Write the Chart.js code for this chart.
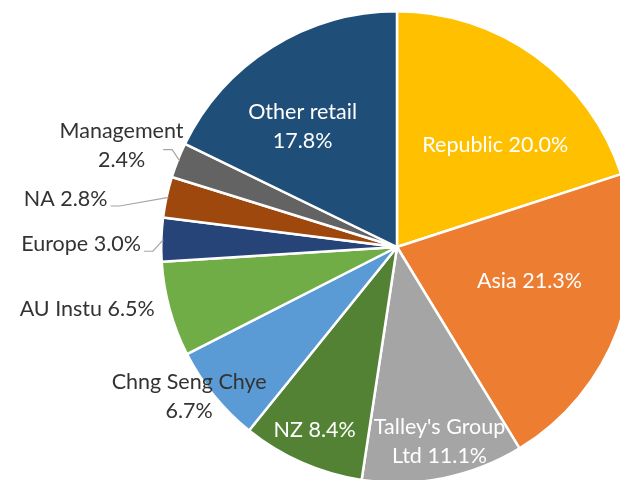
<!DOCTYPE html>
<html>
<head>
<meta charset="utf-8">
<script src="https://cdn.jsdelivr.net/npm/chart.js@4/dist/chart.umd.min.js"></script>
<style>
  html, body { margin: 0; padding: 0; overflow: hidden; background: #fff; }
  #wrap { position: absolute; left: 0; top: 0; width: 640px; height: 500px; }
</style>
</head>
<body>
<div id="wrap"><canvas id="pie"></canvas></div>
<script>
// slices, clockwise from 12 o'clock
const categories = ['Republic', 'Asia', "Talley's Group\nLtd", 'NZ', 'Chng Seng Chye', 'AU Instu', 'Europe', 'NA', 'Management', 'Other retail'];
const shares = [20.0, 21.3, 11.1, 8.4, 6.7, 6.5, 3.0, 2.8, 2.4, 17.8];
const labelSep = [' ', ' ', ' ', ' ', '\n', ' ', ' ', ' ', '\n', '\n'];

const colors = ['#FFC000', '#ED7D31', '#A5A5A5', '#548235', '#5B9BD5', '#70AD47', '#264478', '#9E480E', '#636363', '#1F4E79'];
// label placement: radius as fraction of the pie radius, angle shift in degrees, inside or not, leader line
const labelPos = [
  {r: 0.60, da: 8, inside: true},
  {r: 0.58, da: -6, inside: true},
  {r: 0.845, da: -1, inside: true},
  {r: 0.85, da: 0.5, inside: true},
  {r: 1.085, da: 3.4},
  {r: 1.34, da: 4},
  {r: 1.34, da: -1.3, leader: true},
  {r: 1.42, da: -4, leader: true},
  {r: 1.245, da: -1.4, leader: true},
  {r: 0.65, da: -6, inside: true}
];

const FONT = '21.5px Lato, "Liberation Sans", sans-serif';
const LINE_H = 29;

const labelPlugin = {
  id: 'sliceLabels',
  afterDatasetsDraw(chart) {
    const ctx = chart.ctx;
    const meta = chart.getDatasetMeta(0);
    ctx.save();
    ctx.font = FONT;
    ctx.textAlign = 'center';
    ctx.textBaseline = 'middle';
    meta.data.forEach((arc, i) => {
      const p = arc.getProps(['x', 'y', 'startAngle', 'endAngle', 'outerRadius'], true);
      const mid = (p.startAngle + p.endAngle) / 2;
      const pos = labelPos[i];
      const a = mid + pos.da * Math.PI / 180;
      const lx = p.x + Math.cos(a) * p.outerRadius * pos.r;
      const ly = p.y + Math.sin(a) * p.outerRadius * pos.r;
      const text = categories[i] + labelSep[i] + shares[i].toFixed(1) + '%';
      const lines = text.split('\n');
      const top = ly - (lines.length - 1) * LINE_H / 2;
      ctx.fillStyle = pos.inside ? '#ffffff' : '#333333';
      lines.forEach((ln, k) => ctx.fillText(ln, lx, top + k * LINE_H));

      if (pos.leader) {
        const last = lines[lines.length - 1];
        const w = ctx.measureText(last).width;
        const sx = lx + w / 2 + (lines.length > 1 ? 18 : 3);
        const sy = ly + (lines.length > 1 ? 4 : 7);
        const ex = p.x + Math.cos(mid) * (p.outerRadius - 2);
        const ey = p.y + Math.sin(mid) * (p.outerRadius - 2);
        ctx.strokeStyle = '#a6a6a6';
        ctx.lineWidth = 1.2;
        ctx.beginPath();
        ctx.moveTo(sx, sy);
        ctx.lineTo(Math.min(sx + 9, ex - 5), sy);
        ctx.lineTo(ex, ey);
        ctx.stroke();
      }
    });
    ctx.restore();
  }
};

new Chart(document.getElementById('pie'), {
  type: 'pie',
  data: {
    labels: categories,
    datasets: [{
      data: shares,
      backgroundColor: colors,
      borderColor: '#ffffff',
      borderWidth: 2.5
    }]
  },
  options: {
    responsive: true,
    maintainAspectRatio: false,
    animation: false,
    layout: { padding: { left: 160, right: 6, top: 10, bottom: 16 } },
    plugins: {
      legend: { display: false },
      tooltip: { enabled: false }
    }
  },
  plugins: [labelPlugin]
});
</script>
</body>
</html>
